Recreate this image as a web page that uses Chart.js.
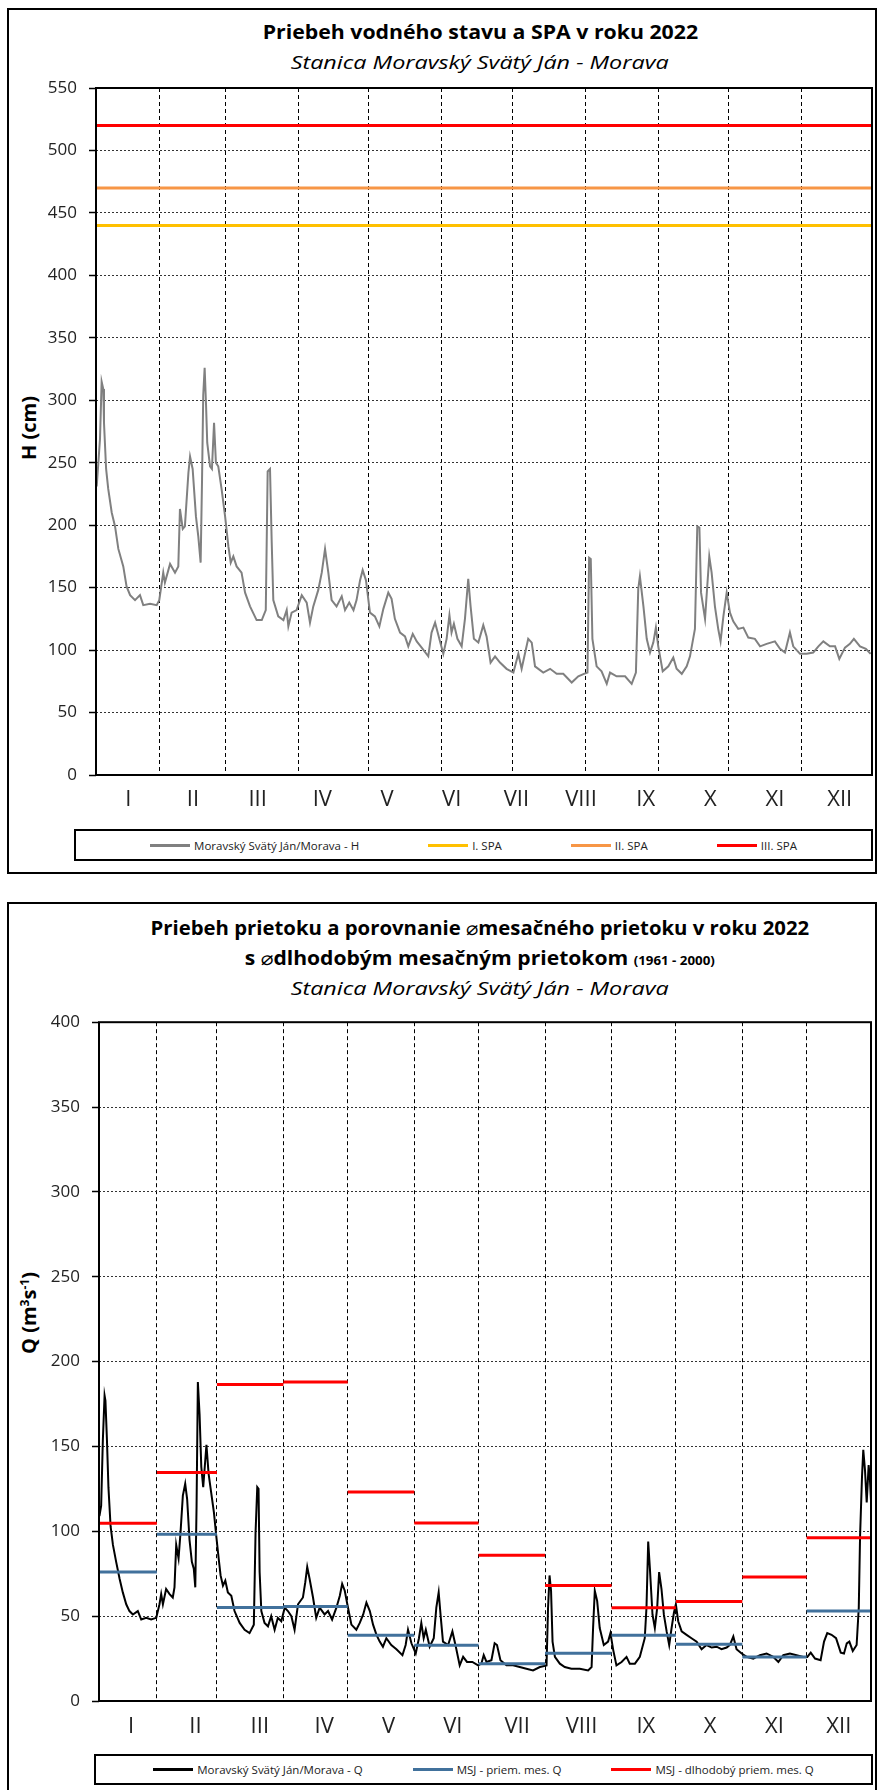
<!DOCTYPE html>
<html lang="sk">
<head>
<meta charset="utf-8">
<title>Moravský Svätý Ján - Morava 2022</title>
<script src="https://cdn.jsdelivr.net/npm/chart.js@4.4.1/dist/chart.umd.min.js"></script>
<style>
  html, body { margin: 0; padding: 0; background: #fff; overflow: hidden; }
  body { width: 877px; height: 1790px; position: relative; font-family: 'Open Sans', 'DejaVu Sans', sans-serif; color: #000; }
  .frame { position: absolute; border: 2px solid #000; box-sizing: border-box; }
  .ttl { position: absolute; left: 91px; width: 778px; text-align: center; white-space: nowrap; font-size: 19px; line-height: 22px; }
  .ttl span { display: inline-block; transform-origin: 50% 50%; }
  .ttl.b { font-weight: 700; }
  .ttl.i { font-style: italic; }
  .ttl small { font-size: 12px; }
  .ttl .dia { font-family: 'DejaVu Sans', sans-serif; font-weight: 400; font-size: 19px; }
  .ytitle { position: absolute; font-weight: 700; font-size: 20px; white-space: nowrap; transform: translate(-50%, -50%) rotate(-90deg); }
  .ytitle sup { font-size: 12px; vertical-align: 7px; line-height: 0; }
  canvas { position: absolute; left: 0; }
  .legend { position: absolute; border: 2px solid #000; box-sizing: border-box; display: flex; justify-content: center; align-items: center; font-size: 11.5px; color: #222; }
  .legend .item { display: flex; align-items: center; white-space: nowrap; }
  .legend i { display: inline-block; width: 40px; height: 3px; margin-right: 4px; }
</style>
</head>
<body>

<!-- graf 1: vodny stav -->
<div class="frame" style="left:7px; top:8px; width:870px; height:866px;"></div>
<div class="ttl b" style="top:21px;"><span style="transform:scaleX(1.12)">Priebeh vodného stavu a SPA v roku 2022</span></div>
<div class="ttl i" style="top:51px;"><span style="transform:scaleX(1.23)">Stanica Moravský Svätý Ján - Morava</span></div>
<div class="ytitle" style="left:28px; top:428px;">H (cm)</div>
<canvas id="chartH" width="877" height="760" style="top:60px;"></canvas>
<div class="legend" id="legH" style="left:74px; top:829px; width:799px; height:32px; gap:69px;"></div>

<!-- graf 2: prietok -->
<div class="frame" style="left:7px; top:902px; width:870px; height:900px;"></div>
<div class="ttl b" style="top:917px;"><span style="transform:scaleX(1.07)">Priebeh prietoku a porovnanie <b class="dia">⌀</b>mesačného prietoku v roku 2022</span></div>
<div class="ttl b" style="top:947px;"><span style="transform:scaleX(1.11)">s <b class="dia">⌀</b>dlhodobým mesačným prietokom <small>(1961 - 2000)</small></span></div>
<div class="ttl i" style="top:977px;"><span style="transform:scaleX(1.23)">Stanica Moravský Svätý Ján - Morava</span></div>
<div class="ytitle" style="left:28px; top:1313px;">Q (m<sup>3</sup>s<sup>-1</sup>)</div>
<canvas id="chartQ" width="877" height="745" style="top:1000px;"></canvas>
<div class="legend" id="legQ" style="left:94px; top:1754px; width:779px; height:31px; gap:50px;"></div>

<script>
// ---- data ----
const monthLabels = ['I', 'II', 'III', 'IV', 'V', 'VI', 'VII', 'VIII', 'IX', 'X', 'XI', 'XII'];
const monthEnds = [31, 59, 90, 120, 151, 181, 212, 243, 273, 304, 334, 365];

const spaNames = ['I. SPA', 'II. SPA', 'III. SPA'];
const spaLevels = [440, 470, 520];

// vodny stav H (cm) - den v roku / hodnota
const hDay = [4.3, 5.7, 6.4, 7.1, 7.4, 8.3, 9.2, 10.7, 12.1, 13.5, 15.6, 17.0, 18.5, 20.6, 22.7, 24.1, 27.0, 29.8, 30.9, 32.6,
  33.3, 35.5, 37.6, 39.0, 39.7, 40.9, 41.8, 43.3, 44.0, 45.1, 46.5, 47.5, 48.5, 49.1, 49.6, 50.2, 50.8, 51.3, 52.5, 53.3,
  54.2, 55.0, 56.0, 57.4, 58.9, 60.3, 61.3, 62.4, 63.8, 65.9, 67.4, 69.5, 72.3, 74.5, 76.2, 77.0, 78.0, 78.7, 79.4, 81.5,
  83.7, 85.1, 85.8, 87.2, 89.3, 91.5, 93.6, 95.0, 96.4, 98.5, 100.0, 101.4, 102.8, 104.2, 106.3, 108.5, 109.9, 111.7, 113.5, 114.8,
  116.3, 117.4, 118.8, 120.5, 122.6, 124.5, 126.2, 128.3, 129.7, 131.1, 133.3, 135.4, 136.8, 138.7, 140.4, 142.5, 145.3, 146.7, 148.2, 150.0,
  151.7, 153.1, 154.3, 155.2, 156.2, 157.7, 159.5, 160.9, 162.3, 163.3, 164.7, 166.6, 168.7, 170.1, 171.8, 173.7, 175.8, 178.6, 181.5, 183.6,
  185.0, 187.8, 189.3, 190.7, 194.2, 197.1, 199.9, 202.7, 206.3, 209.1, 211.5, 213.0, 213.7, 214.4, 215.1, 216.9, 219.0, 221.2, 222.6, 225.4,
  229.0, 231.8, 233.6, 234.6, 235.3, 236.8, 238.2, 239.6, 241.0, 242.1, 243.1, 245.0, 247.4, 249.5, 250.9, 253.1, 255.2, 256.6, 258.7, 259.7,
  260.6, 261.3, 263.0, 264.8, 265.8, 267.2, 268.6, 269.6, 270.8, 272.2, 273.6, 275.0, 277.1, 279.3, 281.4, 284.2, 286.4, 289.2, 292.7, 294.9,
  297.0, 299.1, 300.5, 303.4, 306.2, 309.0, 311.2, 313.3, 316.1, 318.3, 320.1, 322.5, 324.6, 326.3, 328.9, 331.4, 333.4];
const hVal = [231, 269, 315, 309, 282, 245, 229, 210, 199, 181, 167, 151, 144, 140, 144, 136, 137, 136, 140, 162,
  154, 169, 162, 167, 213, 197, 199, 242, 255, 245, 207, 191, 170, 237, 304, 326, 296, 266, 247, 245,
  282, 250, 247, 229, 207, 183, 170, 175, 167, 162, 146, 135, 124, 124, 132, 243, 245, 188, 140, 127,
  124, 132, 119, 130, 132, 144, 138, 122, 135, 148, 162, 181, 162, 140, 135, 143, 132, 138, 132, 140,
  156, 164, 156, 130, 127, 119, 133, 146, 141, 125, 114, 111, 103, 113, 107, 102, 95, 114, 122, 109,
  97, 109, 128, 114, 121, 109, 103, 125, 157, 135, 109, 106, 120, 111, 90, 95, 90, 85, 82, 97,
  85, 109, 106, 87, 82, 85, 81, 81, 74, 79, 81, 82, 174, 173, 109, 87, 83, 73, 82, 79,
  79, 73, 82, 149, 159, 135, 109, 98, 106, 118, 103, 83, 87, 94, 85, 81, 87, 95, 117, 199,
  198, 146, 125, 175, 162, 135, 117, 107, 127, 146, 130, 123, 117, 118, 110, 109, 103, 105, 107, 101,
  98, 114, 103, 97, 97, 98, 103, 107, 103, 103, 93, 102, 105, 109, 103, 101, 97];

// prietok Q (m3/s) - den v roku / hodnota
const qDay = [4.2, 5.0, 5.8, 6.6, 7.0, 7.7, 8.4, 9.4, 10.5, 12.0, 13.6, 15.1, 16.7, 18.2, 19.8, 22.1, 23.7, 26.0, 28.3, 30.7,
  32.2, 33.0, 33.8, 35.3, 36.9, 38.4, 39.2, 40.0, 41.1, 42.0, 43.1, 44.2, 45.1, 46.2, 47.3, 48.2, 48.9, 49.5, 50.1, 50.9,
  51.7, 52.6, 53.2, 54.1, 55.1, 56.3, 57.6, 58.7, 59.8, 60.7, 61.8, 62.9, 64.1, 65.7, 67.2, 69.6, 71.9, 74.2, 76.2, 77.0,
  77.8, 78.4, 78.9, 79.7, 81.2, 82.8, 84.3, 85.9, 87.4, 89.0, 90.6, 92.1, 93.7, 95.2, 96.8, 99.1, 100.2, 101.1, 102.2, 103.8,
  105.3, 106.9, 109.2, 110.8, 112.7, 114.7, 116.3, 117.4, 118.6, 119.8, 121.7, 124.0, 125.6, 127.2, 128.7, 130.3, 131.8, 133.4, 134.9, 136.4,
  138.0, 140.3, 142.7, 145.5, 147.0, 148.1, 149.7, 151.7, 153.2, 154.3, 155.4, 156.4, 158.2, 160.1, 161.3, 162.4, 163.4, 164.4, 166.8, 168.8,
  170.4, 172.2, 173.8, 175.6, 178.1, 180.8, 182.3, 183.4, 184.7, 187.0, 188.5, 189.6, 191.2, 194.0, 197.1, 200.2, 203.3, 206.4, 209.6, 212.7,
  213.4, 214.1, 214.8, 215.5, 216.6, 218.9, 221.2, 224.3, 228.2, 232.1, 233.7, 234.4, 235.2, 236.3, 237.5, 239.4, 241.4, 242.5, 243.8, 245.3,
  247.7, 250.0, 251.5, 253.9, 256.2, 258.5, 259.3, 260.1, 260.9, 262.1, 263.2, 264.3, 265.2, 266.3, 267.4, 268.7, 269.9, 271.0, 272.1, 273.0,
  274.1, 275.7, 278.0, 280.3, 282.7, 285.0, 287.3, 289.7, 292.0, 294.3, 296.7, 298.2, 299.8, 301.3, 303.7, 306.0, 309.1, 312.2, 315.3, 318.4,
  320.8, 323.1, 326.2, 329.3, 332.4, 334.3, 335.9, 337.9, 340.5, 342.1, 343.6, 345.6, 347.7, 349.9, 351.4, 352.7, 353.9, 355.5, 357.3, 358.3,
  358.9, 359.8, 360.4, 361.2, 362.0, 362.9, 363.5, 364.2];
const qVal = [109, 115, 154, 180, 177, 154, 126, 103, 92, 82, 72, 64, 57, 53, 51, 53, 48, 49, 48, 49,
  57, 63, 57, 66, 63, 61, 67, 92, 84, 99, 121, 128, 119, 95, 82, 78, 67, 115, 188, 169,
  138, 126, 136, 151, 134, 123, 111, 97, 84, 74, 68, 71, 64, 62, 53, 46, 42, 40, 45, 99,
  126, 125, 76, 53, 46, 44, 50, 42, 49, 47, 55, 53, 50, 42, 57, 61, 70, 79, 72, 61,
  49, 55, 51, 53, 48, 55, 62, 69, 65, 57, 45, 42, 46, 51, 58, 53, 45, 39, 35, 32,
  37, 33, 30.5, 27, 33, 42, 34, 28, 37, 46, 37, 42, 32, 37, 55, 64, 49, 35, 33, 41,
  32, 21, 26, 23, 23, 21, 22, 27, 23, 24, 34, 33, 24, 21, 21, 20, 19, 18, 20, 21,
  55, 74, 65, 35, 26, 22, 20, 19, 19, 18, 20, 43, 65, 59, 43, 33, 35, 40, 30, 21,
  23, 26, 22, 22, 26, 37, 55, 94, 78, 51, 43, 55, 76, 66, 51, 41, 33, 43, 52, 57,
  47, 41, 39, 37, 35, 30.5, 33, 31.5, 32, 30.5, 31.5, 33, 38, 30.5, 28, 26, 25, 27, 28, 26,
  23, 27, 28, 27, 26, 26, 28.5, 25, 24, 35, 40, 39, 37, 28.5, 28, 34, 35, 29.5, 33, 55,
  97, 132, 148, 136, 117, 139, 130.5, 113];

// priemerne mesacne prietoky 2022 a dlhodoby priemer 1961-2000
const qMonthAvg = [76.0, 98.2, 55.1, 55.7, 38.7, 32.9, 21.9, 28.2, 38.7, 33.5, 25.9, 53.0];
const qLongTermAvg = [104.7, 134.6, 186.5, 188.0, 123.1, 104.9, 85.9, 68.0, 54.9, 58.7, 73.1, 96.2];

// ---- pomocne funkcie ----
Chart.defaults.font.family = "'Open Sans', 'DejaVu Sans', sans-serif";

const toPoints = (days, vals) => days.map((d, i) => ({ x: d, y: vals[i] }));

// schodovita ciara: jedna vodorovna ciara pre kazdy mesiac
function monthSteps(values, xMin, xMax) {
    const pts = [];
    values.forEach((v, i) => {
        const a = Math.max(i ? monthEnds[i - 1] : 0, xMin);
        const b = Math.min(monthEnds[i], xMax);
        pts.push({ x: a, y: v }, { x: b, y: v }, { x: b, y: null });
    });
    return pts;
}

// ramcek okolo plochy grafu
const plotFrame = {
    id: 'plotFrame',
    afterDraw(chart) {
        const { ctx, chartArea: a } = chart;
        ctx.save();
        ctx.strokeStyle = '#000';
        ctx.lineWidth = 2;
        ctx.strokeRect(a.left, a.top, a.right - a.left, a.bottom - a.top);
        ctx.restore();
    }
};

function baseOptions(o) {
    return {
        responsive: false,
        animation: false,
        devicePixelRatio: 1,
        layout: { padding: { top: o.padTop, right: o.padRight, bottom: 0, left: 0 } },
        plugins: { legend: { display: false }, title: { display: false }, tooltip: { enabled: false } },
        elements: { point: { radius: 0 }, line: { tension: 0 } },
        scales: {
            x: {
                type: 'linear',
                min: o.xMin,
                max: o.xMax,
                afterBuildTicks: s => {
                    s.ticks = monthEnds.filter(d => d > o.xMin && d <= o.xMax).map(v => ({ value: v }));
                },
                ticks: { display: false },
                grid: { color: '#000', lineWidth: 1, drawTicks: false },
                border: { display: false, dash: [4, 3] },
                afterFit: s => { s.height = 0; }
            },
            xl: {
                type: 'category',
                position: 'bottom',
                labels: monthLabels,
                offset: true,
                grid: { display: false },
                border: { display: false },
                ticks: { padding: o.labelPad, color: '#222', font: { size: 22 }, maxRotation: 0, autoSkip: false },
                afterFit: s => { s.height = o.labelBand; }
            },
            y: {
                min: 0,
                max: o.yMax,
                ticks: { stepSize: 50, padding: 12, color: '#222', font: { size: 17 } },
                grid: { color: '#333', lineWidth: 1, tickLength: 7, tickColor: '#000', tickWidth: 1.5 },
                border: { display: false, dash: [2, 2] },
                afterFit: s => { s.width = o.yWidth; }
            }
        }
    };
}

function htmlLegend(el, chart) {
    el.innerHTML = chart.data.datasets
        .map(ds => `<span class="item"><i style="background:${ds.borderColor}"></i>${ds.label}</span>`)
        .join('');
}

// ---- graf 1: H ----
const H_MIN = 4, H_MAX = 334;
const spaColors = ['#FFC000', '#F79646', '#FF0000'];

const chartH = new Chart(document.getElementById('chartH'), {
    type: 'line',
    data: {
        datasets: [
            {
                label: 'Moravský Svätý Ján/Morava - H',
                data: toPoints(hDay, hVal),
                borderColor: '#808080',
                borderWidth: 2
            },
            ...spaLevels.map((lvl, i) => ({
                label: spaNames[i],
                data: [{ x: H_MIN, y: lvl }, { x: H_MAX, y: lvl }],
                borderColor: spaColors[i],
                borderWidth: 3
            }))
        ]
    },
    options: baseOptions({ padTop: 28, padRight: 5, xMin: H_MIN, xMax: H_MAX, yMax: 550, yWidth: 96, labelPad: 4, labelBand: 45 }),
    plugins: [plotFrame]
});
htmlLegend(document.getElementById('legH'), chartH);

// ---- graf 2: Q ----
const Q_MIN = 4, Q_MAX = 364;

const chartQ = new Chart(document.getElementById('chartQ'), {
    type: 'line',
    data: {
        datasets: [
            {
                label: 'Moravský Svätý Ján/Morava - Q',
                data: toPoints(qDay, qVal),
                borderColor: '#000000',
                borderWidth: 2,
                order: 3
            },
            {
                label: 'MSJ - priem. mes. Q',
                data: monthSteps(qMonthAvg, Q_MIN, Q_MAX),
                borderColor: '#41719C',
                borderWidth: 3,
                order: 2
            },
            {
                label: 'MSJ - dlhodobý priem. mes. Q',
                data: monthSteps(qLongTermAvg, Q_MIN, Q_MAX),
                borderColor: '#FF0000',
                borderWidth: 3,
                order: 1
            }
        ]
    },
    options: baseOptions({ padTop: 14, padRight: 6, xMin: Q_MIN, xMax: Q_MAX, yMax: 400, yWidth: 99, labelPad: 5, labelBand: 44 }),
    plugins: [plotFrame]
});
htmlLegend(document.getElementById('legQ'), chartQ);
</script>
</body>
</html>
